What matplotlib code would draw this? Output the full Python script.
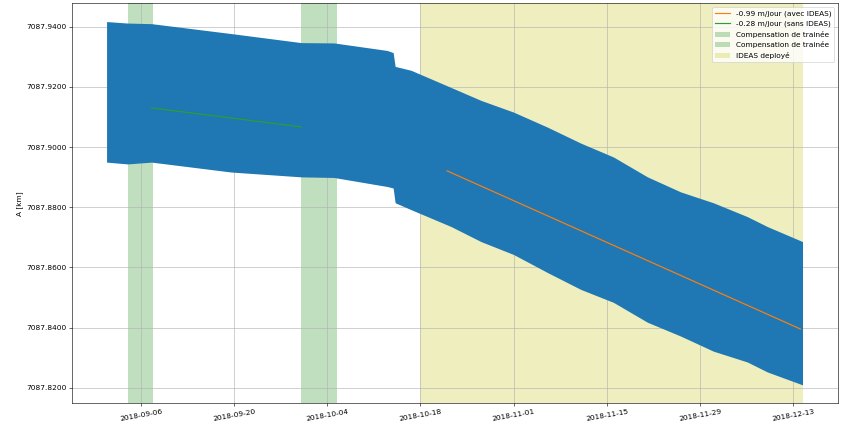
import numpy as np
import pandas as pd
import matplotlib
matplotlib.use('Agg')
import matplotlib.pyplot as plt

t0 = pd.Timestamp('2018-09-01')

# envelope of the semi-major axis samples (days since 2018-09-01, km)
days = [-0.15, 3.0, 6.6, 18.6, 29.1, 34.0, 42.0, 42.9, 43.2, 45.6, 51.6, 56.1,
        61.0, 66.1, 71.1, 76.0, 81.1, 86.1, 91.0, 96.1, 99.1, 104.4]
a_max = [7087.9417, 7087.9412, 7087.9410, 7087.9377, 7087.9347, 7087.9346,
         7087.9321, 7087.9314, 7087.9268, 7087.9255, 7087.9198, 7087.9155,
         7087.9116, 7087.9066, 7087.9013, 7087.8967, 7087.8901, 7087.8851,
         7087.8815, 7087.8769, 7087.8736, 7087.8686]
a_min = [7087.8950, 7087.8944, 7087.8950, 7087.8917, 7087.8901, 7087.8899,
         7087.8869, 7087.8864, 7087.8815, 7087.8792, 7087.8736, 7087.8686,
         7087.8643, 7087.8583, 7087.8527, 7087.8484, 7087.8418, 7087.8372,
         7087.8322, 7087.8286, 7087.8253, 7087.8210]

# linear trends: (start day, end day, start value km, slope m/day)
fit_sans = (6.6, 29.1, 7087.9130, -0.28)
fit_avec = (51.0, 104.1, 7087.8921, -0.99)

drag_comp = [(3.1, 6.85), (29.1, 34.5)]
ideas_on = (47.0, 104.5)


def to_date(d):
    return t0 + pd.to_timedelta(np.asarray(d, dtype=float), unit='D')


fig = plt.figure(figsize=(847 / 53, 424 / 53), dpi=53)
ax = fig.add_axes([0.0847, 0.0495, 0.9047, 0.9425])

ax.fill_between(to_date(days), a_min, a_max, color='C0', lw=0, zorder=2)

for (d_start, d_end, a0, slope), color, label in [
        (fit_avec, 'C1', '-0.99 m/jour (avec IDEAS)'),
        (fit_sans, 'C2', '-0.28 m/jour (sans IDEAS)')]:
    d = np.array([d_start, d_end])
    ax.plot(to_date(d), a0 + slope * 1e-3 * (d - d_start), color=color,
            lw=1.6, label=label, zorder=3)

for d_start, d_end in drag_comp:
    ax.axvspan(to_date(d_start), to_date(d_end), color='g', alpha=0.25,
               lw=0, label='Compensation de trainée')
ax.axvspan(to_date(ideas_on[0]), to_date(ideas_on[1]), color='y', alpha=0.25,
           lw=0, label='IDEAS deployé')

ax.set_ylabel('A [km]')
ax.yaxis.set_major_formatter(plt.FormatStrFormatter('%.4f'))
ticks = pd.date_range('2018-09-06', '2018-12-13', freq='14D')
ax.set_xticks(ticks)
ax.set_xticklabels([t.strftime('%Y-%m-%d') for t in ticks], rotation=10)
ax.grid(True)
ax.legend(loc='upper right')

fig.savefig('out.png', dpi=53)
